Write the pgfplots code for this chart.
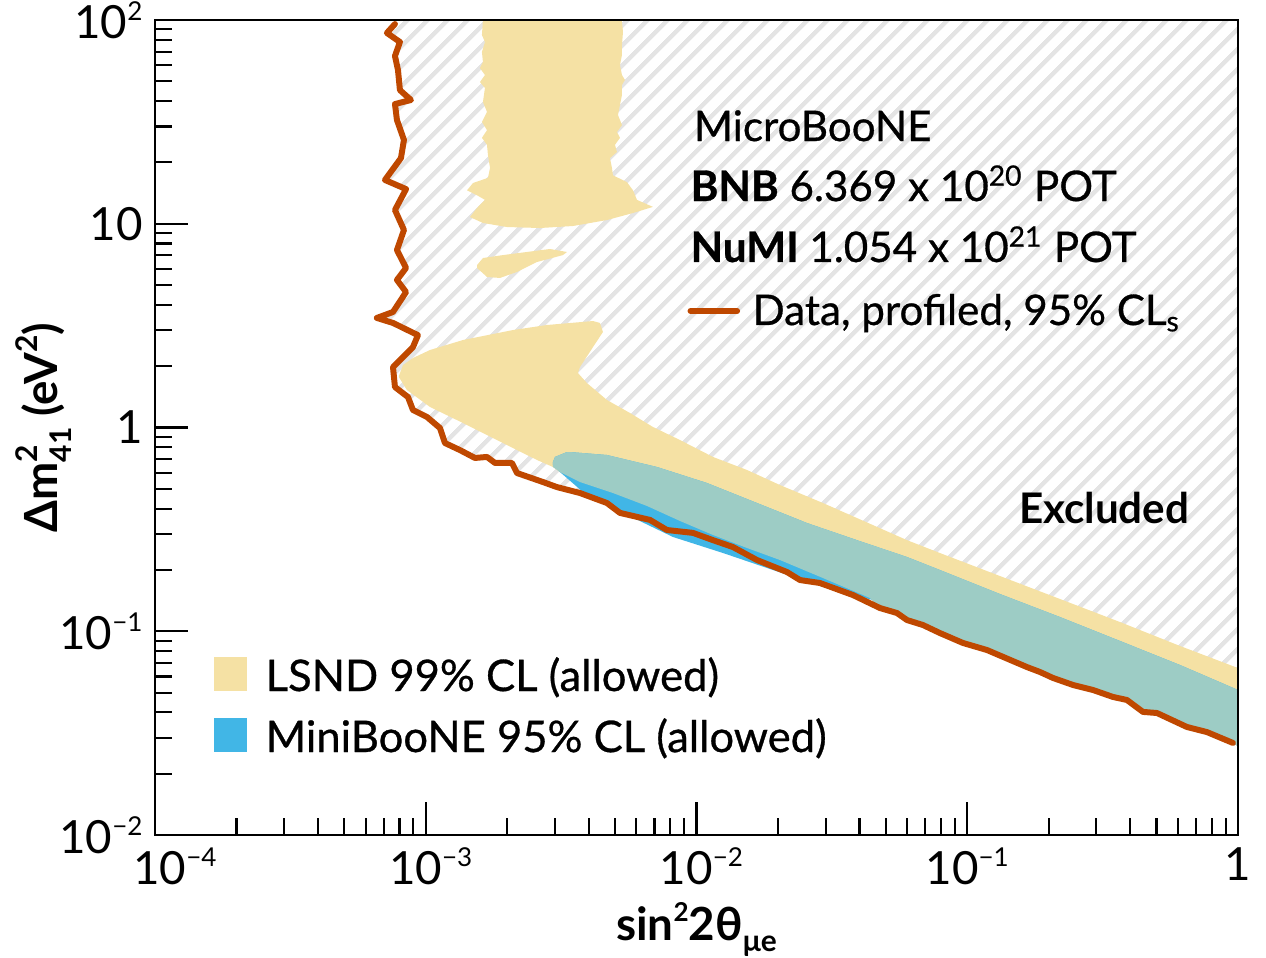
\documentclass[border=0pt]{standalone}
\usepackage{fontspec}
\setmainfont{Lato}
\newfontfamily\semib{Lato}[FakeBold=0.7]
\usepackage{pgfplots}
\pgfplotsset{compat=1.18}
\usetikzlibrary{patterns.meta}
\definecolor{lsnd}{RGB}{245,225,164}
\definecolor{mbblue}{RGB}{65,182,230}
\definecolor{overlap}{RGB}{157,204,197}
\definecolor{uboone}{RGB}{191,72,0}
\definecolor{hatchc}{RGB}{228,228,228}
\newcommand\sups[1]{\raisebox{0.4em}{\fontsize{7.4}{8}\selectfont #1}}
\begin{document}
\begin{tikzpicture}
\useasboundingbox (-15.5mm,-12.2mm) rectangle (111.1mm,83.5mm);
\begin{axis}[
  at={(0,0)}, anchor=south west,
  scale only axis, width=108.3mm, height=81.5mm,
  xmode=log, ymode=log,
  xmin=1e-4, xmax=1, ymin=1e-2, ymax=100,
  axis on top,
  xtick={1e-4,1e-3,1e-2,1e-1,1},
  xticklabels={\hspace*{4mm}10\sups{−4},\hspace*{1mm}10\sups{−3},\hspace*{1mm}10\sups{−2},10\sups{−1},1},
  ytick={1e-2,1e-1,1,10,100},
  yticklabels={10\sups{−2},10\sups{−1},1,10,10\sups{2}},
  minor xtick={2e-4,3e-4,4e-4,5e-4,6e-4,7e-4,8e-4,9e-4,2e-3,3e-3,4e-3,5e-3,6e-3,7e-3,8e-3,9e-3,2e-2,3e-2,4e-2,5e-2,6e-2,7e-2,8e-2,9e-2,0.2,0.3,0.4,0.5,0.6,0.7,0.8,0.9},
  minor ytick={2e-2,3e-2,4e-2,5e-2,6e-2,7e-2,8e-2,9e-2,0.2,0.3,0.4,0.5,0.6,0.7,0.8,0.9,2,3,4,5,6,7,8,9,20,30,40,50,60,70,80,90},
  tick pos=left,
  tick align=inside,
  major tick length=3.3mm, minor tick length=1.7mm,
  every tick/.style={line width=0.6pt, black},
  axis line style={line width=0.8pt},
  /pgf/number format/assume math mode=true,
  ticklabel style={font=\fontsize{13}{14}\selectfont},
  label style={font=\bfseries\fontsize{13}{15}\selectfont},
  xlabel={sin\sups{2}2θ\raisebox{-0.25em}{\fontsize{8.5}{9}\selectfont μe}},
  ylabel={Δm\rlap{\raisebox{0.45em}{\fontsize{8.5}{9}\selectfont 2}}\raisebox{-0.3em}{\fontsize{8.5}{9}\selectfont 41} (eV\raisebox{0.45em}{\fontsize{8.5}{9}\selectfont 2})},
  xlabel style={at={(axis description cs:0.5,0)}, anchor=base, yshift=-10.5mm},
  ylabel style={at={(axis description cs:0,0.5)}, anchor=base, yshift=9.7mm},
]
% excluded region (hatched)
\addplot[draw=none, pattern={Lines[angle=45,distance=1.4mm,line width=0.45mm]}, pattern color=hatchc] coordinates {
(7.70e-4,95.6) (7.19e-4,86.4) (8.03e-4,78.0) (7.70e-4,66.6) (7.90e-4,56.8) (8.03e-4,45.3)
(8.82e-4,40.5) (7.70e-4,38.7) (7.83e-4,32.3) (8.31e-4,25.8) (8.10e-4,21.0) (7.07e-4,16.4)
(8.46e-4,14.8) (7.70e-4,11.68) (8.31e-4,9.32) (7.83e-4,7.43) (8.46e-4,6.07) (7.83e-4,5.30)
(8.46e-4,4.62) (7.57e-4,3.69) (6.60e-4,3.45) (7.57e-4,3.26) (9.36e-4,2.84) (8.97e-4,2.48)
(7.57e-4,1.98) (7.70e-4,1.58) (8.60e-4,1.411) (8.97e-4,1.219) (1.011e-3,1.126) (1.129e-3,0.994)
(1.178e-3,0.839) (1.338e-3,0.775) (1.520e-3,0.709) (1.684e-3,0.717) (1.803e-3,0.670) (2.083e-3,0.670)
(2.173e-3,0.598) (2.711e-3,0.540) (3.053e-3,0.510) (3.713e-3,0.477) (4.670e-3,0.426) (5.218e-3,0.381)
(6.734e-3,0.352) (7.780e-3,0.314) (9.707e-3,0.304) (1.151e-2,0.280) (1.364e-2,0.259) (1.673e-2,0.2237)
(2.160e-2,0.1953) (2.412e-2,0.1784) (2.858e-2,0.1725) (3.784e-2,0.1506) (4.762e-2,0.1300) (5.502e-2,0.1229)
(5.993e-2,0.1135) (6.865e-2,0.1073) (7.930e-2,0.0980) (9.646e-2,0.0876) (0.1183,0.0809) (0.1663,0.0667)
(0.1857,0.0631) (0.2074,0.0590) (0.2458,0.0545) (0.2914,0.0515) (0.3454,0.0476) (0.3890,0.0460)
(0.4458,0.0402) (0.5022,0.0397) (0.6479,0.0339) (0.7685,0.0320) (0.9584,0.0283)
(1,0.0280) (1,100) (7.70e-4,100)
};
% LSND top block
\addplot[draw=none, fill=lsnd] coordinates {
(1.627e-3,100) (1.613e-3,84.4) (1.655e-3,78.0) (1.613e-3,69.7) (1.627e-3,62.2) (1.586e-3,58.1)
(1.655e-3,53.7) (1.586e-3,49.6) (1.655e-3,46.4) (1.627e-3,39.6) (1.684e-3,35.4) (1.613e-3,31.6)
(1.684e-3,28.8) (1.613e-3,26.4) (1.684e-3,24.4) (1.698e-3,21.7) (1.728e-3,18.8) (1.698e-3,16.8)
(1.495e-3,15.85) (1.421e-3,14.6) (1.547e-3,13.8) (1.655e-3,13.1) (1.547e-3,11.95) (1.457e-3,10.79)
(1.627e-3,10.09) (1.995e-3,9.64) (2.642e-3,9.53) (3.499e-3,9.75) (4.670e-3,10.43) (5.828e-3,11.29)
(6.907e-3,12.1) (6.029e-3,13.1) (5.828e-3,14.6) (5.538e-3,16.0) (4.915e-3,17.3) (4.874e-3,18.8)
(4.791e-3,21.0) (5.086e-3,22.5) (5.000e-3,24.4) (5.218e-3,26.4) (5.086e-3,28.2) (5.307e-3,30.5)
(5.130e-3,34.2) (5.218e-3,38.3) (5.307e-3,42.8) (5.307e-3,48.0) (5.444e-3,50.8) (5.307e-3,53.7)
(5.218e-3,60.1) (5.307e-3,67.3) (5.307e-3,75.4) (5.353e-3,87.3) (5.307e-3,97.8) (5.307e-3,100)
};
% LSND island
\addplot[draw=none, fill=lsnd] coordinates {
(1.547e-3,6.27) (1.627e-3,6.79) (1.929e-3,7.02) (2.876e-3,7.52) (3.324e-3,7.27) (3.213e-3,7.02)
(2.575e-3,6.49) (2.173e-3,5.80) (1.880e-3,5.42) (1.684e-3,5.48) (1.547e-3,6.07)
};
% LSND main band
\addplot[draw=none, fill=lsnd] coordinates {
(7.96e-4,1.789) (8.24e-4,2.026) (8.97e-4,2.193) (1.037e-3,2.401) (1.373e-3,2.688) (2.101e-3,3.009)
(2.804e-3,3.185) (4.147e-3,3.332) (4.400e-3,3.26) (4.514e-3,2.943) (4.147e-3,2.48) (3.713e-3,1.98)
(3.650e-3,1.851) (3.940e-3,1.653) (4.670e-3,1.365) (5.681e-3,1.178) (6.907e-3,1.006) (8.694e-3,0.868)
(1.151e-2,0.717) (1.536e-2,0.619) (2.034e-2,0.522) (2.932e-2,0.426) (4.486e-2,0.332) (5.993e-2,0.280)
(7.930e-2,0.2421) (0.1321,0.1867) (0.2201,0.1440) (0.3666,0.1110) (0.6107,0.0847) (1,0.0660)
(1,0.0273) (0.9584,0.0283) (0.7685,0.0320) (0.6479,0.0339) (0.5022,0.0397) (0.4458,0.0402)
(0.3890,0.0460) (0.3454,0.0476) (0.2914,0.0515) (0.2458,0.0545) (0.2074,0.0590) (0.1857,0.0631)
(0.1663,0.0667) (0.1183,0.0809) (9.646e-2,0.0876) (7.930e-2,0.0980) (6.865e-2,0.1073) (5.993e-2,0.1135)
(5.502e-2,0.1229) (4.762e-2,0.1300) (4.373e-2,0.1456) (2.932e-2,0.1825) (2.034e-2,0.2237) (1.536e-2,0.2563)
(1.151e-2,0.2968) (8.694e-3,0.3477) (6.565e-3,0.412) (4.915e-3,0.477) (3.713e-3,0.540) (3.131e-3,0.605)
(2.951e-3,0.640) (2.575e-3,0.693) (1.833e-3,0.868) (1.373e-3,1.052) (1.037e-3,1.261) (8.52e-4,1.528)
(7.96e-4,1.769)
};
% MiniBooNE (full)
\addplot[draw=none, fill=mbblue] coordinates {
(2.951e-3,0.677) (3.002e-3,0.717) (3.324e-3,0.758) (3.411e-3,0.758) (4.670e-3,0.733) (7.147e-3,0.640)
(1.094e-2,0.534) (1.673e-2,0.426) (2.559e-2,0.3398) (3.915e-2,0.280) (5.993e-2,0.2314) (7.930e-2,0.1998)
(0.1321,0.1523) (0.2201,0.1174) (0.3666,0.0896) (0.6107,0.0683) (1,0.0515)
(1,0.0273) (0.9584,0.0283) (0.7685,0.0320) (0.6479,0.0339) (0.5022,0.0397) (0.4458,0.0402)
(0.3890,0.0460) (0.3454,0.0476) (0.2914,0.0515) (0.2458,0.0545) (0.2074,0.0590) (0.1857,0.0631)
(0.1663,0.0667) (0.1183,0.0809) (9.646e-2,0.0876) (7.930e-2,0.0980) (6.865e-2,0.1073) (5.993e-2,0.1135)
(5.502e-2,0.1229) (4.762e-2,0.1300) (4.486e-2,0.1424) (2.932e-2,0.1649) (1.917e-2,0.1998) (1.253e-2,0.2421)
(8.190e-3,0.2902) (5.353e-3,0.381) (3.809e-3,0.4826) (3.131e-3,0.605) (2.951e-3,0.6546)
};
% MiniBooNE overlapping LSND
\addplot[draw=none, fill=overlap] coordinates {
(2.951e-3,0.677) (3.002e-3,0.717) (3.324e-3,0.758) (3.411e-3,0.758) (4.670e-3,0.733) (7.147e-3,0.640)
(1.094e-2,0.534) (1.673e-2,0.426) (2.559e-2,0.3398) (3.915e-2,0.280) (5.993e-2,0.2314) (7.930e-2,0.1998)
(0.1321,0.1523) (0.2201,0.1174) (0.3666,0.0896) (0.6107,0.0683) (1,0.0515)
(1,0.0273) (0.9584,0.0283) (0.7685,0.0320) (0.6479,0.0339) (0.5022,0.0397) (0.4458,0.0402)
(0.3890,0.0460) (0.3454,0.0476) (0.2914,0.0515) (0.2458,0.0545) (0.2074,0.0590) (0.1857,0.0631)
(0.1663,0.0667) (0.1183,0.0809) (9.646e-2,0.0876) (7.930e-2,0.0980) (6.865e-2,0.1073) (5.993e-2,0.1135)
(5.502e-2,0.1229) (4.762e-2,0.1300) (4.373e-2,0.1456) (2.932e-2,0.1825) (2.034e-2,0.2237) (1.536e-2,0.2563)
(1.151e-2,0.2968) (8.694e-3,0.3477) (6.565e-3,0.412) (4.915e-3,0.477) (3.713e-3,0.540) (3.131e-3,0.605)
(2.951e-3,0.640)
};
% MicroBooNE data contour
\addplot[uboone, line width=1.7pt, line join=round, line cap=round] coordinates {
(7.70e-4,95.6) (7.19e-4,86.4) (8.03e-4,78.0) (7.70e-4,66.6) (7.90e-4,56.8) (8.03e-4,45.3)
(8.82e-4,40.5) (7.70e-4,38.7) (7.83e-4,32.3) (8.31e-4,25.8) (8.10e-4,21.0) (7.07e-4,16.4)
(8.46e-4,14.8) (7.70e-4,11.68) (8.31e-4,9.32) (7.83e-4,7.43) (8.46e-4,6.07) (7.83e-4,5.30)
(8.46e-4,4.62) (7.57e-4,3.69) (6.60e-4,3.45) (7.57e-4,3.26) (9.36e-4,2.84) (8.97e-4,2.48)
(7.57e-4,1.98) (7.70e-4,1.58) (8.60e-4,1.411) (8.97e-4,1.219) (1.011e-3,1.126) (1.129e-3,0.994)
(1.178e-3,0.839) (1.338e-3,0.775) (1.520e-3,0.709) (1.684e-3,0.717) (1.803e-3,0.670) (2.083e-3,0.670)
(2.173e-3,0.598) (2.711e-3,0.540) (3.053e-3,0.510) (3.713e-3,0.477) (4.670e-3,0.426) (5.218e-3,0.381)
(6.734e-3,0.352) (7.780e-3,0.314) (9.707e-3,0.304) (1.151e-2,0.280) (1.364e-2,0.259) (1.673e-2,0.2237)
(2.160e-2,0.1953) (2.412e-2,0.1784) (2.858e-2,0.1725) (3.784e-2,0.1506) (4.762e-2,0.1300) (5.502e-2,0.1229)
(5.993e-2,0.1135) (6.865e-2,0.1073) (7.930e-2,0.0980) (9.646e-2,0.0876) (0.1183,0.0809) (0.1663,0.0667)
(0.1857,0.0631) (0.2074,0.0590) (0.2458,0.0545) (0.2914,0.0515) (0.3454,0.0476) (0.3890,0.0460)
(0.4458,0.0402) (0.5022,0.0397) (0.6479,0.0339) (0.7685,0.0320) (0.9584,0.0283)
};
% annotations
\node[anchor=base west, inner sep=0pt, font=\semib\fontsize{12}{13}\selectfont] at (rel axis cs:0.497,0.8515) {MicroBooNE};
\node[anchor=base west, inner sep=0pt, font=\semib\fontsize{12}{13}\selectfont] at (rel axis cs:0.494,0.7779) {\textbf{BNB} 6.369 x 10\textsuperscript{20} POT};
\node[anchor=base west, inner sep=0pt, font=\semib\fontsize{12}{13}\selectfont] at (rel axis cs:0.494,0.7031) {\textbf{NuMI} 1.054 x 10\textsuperscript{21} POT};
\draw[uboone, line width=1.7pt, line cap=round] (rel axis cs:0.4945,0.6430) -- (rel axis cs:0.5375,0.6430);
\node[anchor=base west, inner sep=0pt, font=\semib\fontsize{12}{13}\selectfont] at (rel axis cs:0.5512,0.6258) {Data, profiled, 95\% CL\textsubscript{s}};
\node[anchor=base east, inner sep=0pt, font=\bfseries\fontsize{12}{13}\selectfont] at (rel axis cs:0.9557,0.3828) {Excluded};
% legend
\fill[lsnd] (rel axis cs:0.0545,0.1767) rectangle (rel axis cs:0.0849,0.2184);
\node[anchor=base west, inner sep=0pt, font=\semib\fontsize{12.4}{13}\selectfont] at (rel axis cs:0.1016,0.1767) {LSND 99\% CL (allowed)};
\fill[mbblue] (rel axis cs:0.0545,0.1018) rectangle (rel axis cs:0.0849,0.1436);
\node[anchor=base west, inner sep=0pt, font=\semib\fontsize{12.4}{13}\selectfont] at (rel axis cs:0.1016,0.1018) {MiniBooNE 95\% CL (allowed)};
\end{axis}
\end{tikzpicture}
\end{document}
